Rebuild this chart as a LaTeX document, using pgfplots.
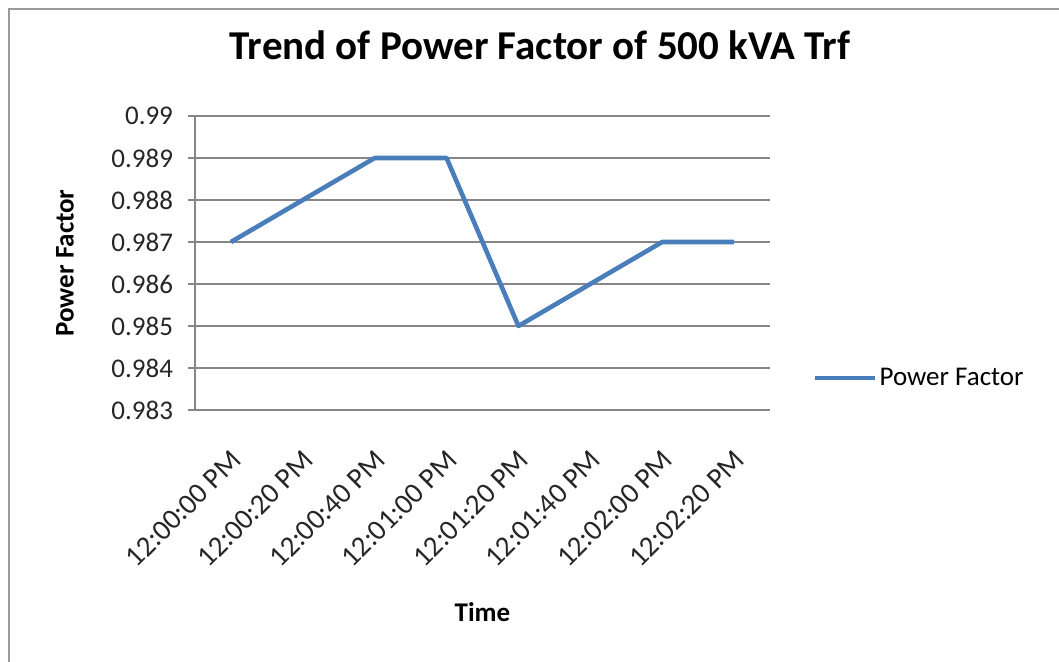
\documentclass[border=0pt]{standalone}
\usepackage{fontspec}
\setmainfont{Carlito}
\usepackage{pgfplots}
\pgfplotsset{compat=1.18}
\definecolor{excelblue}{HTML}{4A7EBB}
\definecolor{gridgray}{HTML}{868686}
\definecolor{bordergray}{HTML}{9A9A9A}
\begin{document}
\begin{tikzpicture}
\path[use as bounding box] (0pt,0pt) rectangle (529.5pt,331pt);
\draw[bordergray, line width=1pt] (4.5pt,-5pt) -- (4.5pt,326.5pt) -- (535pt,326.5pt);
\begin{axis}[
  at={(97.5pt,126pt)}, anchor=south west,
  scale only axis, width=287.5pt, height=147pt,
  xmin=-0.5, xmax=7.5,
  ymin=0.983, ymax=0.99,
  xtick={0,1,2,3,4,5,6,7},
  xticklabels={12:00:00 PM,12:00:20 PM,12:00:40 PM,12:01:00 PM,12:01:20 PM,12:01:40 PM,12:02:00 PM,12:02:20 PM},
  ytick={0.983,0.984,0.985,0.986,0.987,0.988,0.989,0.99},
  yticklabels={0.983,0.984,0.985,0.986,0.987,0.988,0.989,0.99},
  axis x line*=bottom, axis y line*=left,
  axis line style={gridgray, line width=0.75pt, -},
  ymajorgrids, grid style={gridgray, line width=0.75pt},
  x tick style={draw=none},
  y tick style={gridgray, line width=0.75pt},
  tick align=outside, major tick length=3.5pt,
  ticklabel style={font=\fontsize{13.5}{16}\selectfont, text=black!85},
  yticklabel style={xshift=-4pt},
  xticklabel style={rotate=45, anchor=east, yshift=-15.7pt, xshift=-8.3pt, font=\fontsize{14.5}{17}\selectfont},
  title={Trend of Power Factor of 500 kVA Trf},
  title style={at={(axis description cs:0.6,1.2)}, anchor=center, font=\bfseries\fontsize{20.5}{24}\selectfont},
  ylabel={Power Factor},
  ylabel style={at={(axis description cs:-0.226,0.5)}, anchor=center, font=\bfseries\fontsize{13.5}{16}\selectfont},
  xlabel={Time},
  xlabel style={at={(axis description cs:0.5,-0.687)}, anchor=center, font=\bfseries\fontsize{13.5}{16}\selectfont},
  legend style={at={(axis description cs:1.074,0.109)}, anchor=west, draw=none, fill=none,
    font=\fontsize{13.5}{16}\selectfont, inner sep=0pt, nodes={inner sep=1pt}},
  legend image code/.code={\draw[#1] (0pt,0pt) -- (30pt,0pt);},
  clip=false,
]
\addplot[excelblue, line width=2.3pt, line join=round] coordinates {
  (0,0.987) (1,0.988) (2,0.989) (3,0.989) (4,0.985) (5,0.986) (6,0.987) (7,0.987)
};
\addlegendentry{Power Factor}
\end{axis}
\end{tikzpicture}
\end{document}
